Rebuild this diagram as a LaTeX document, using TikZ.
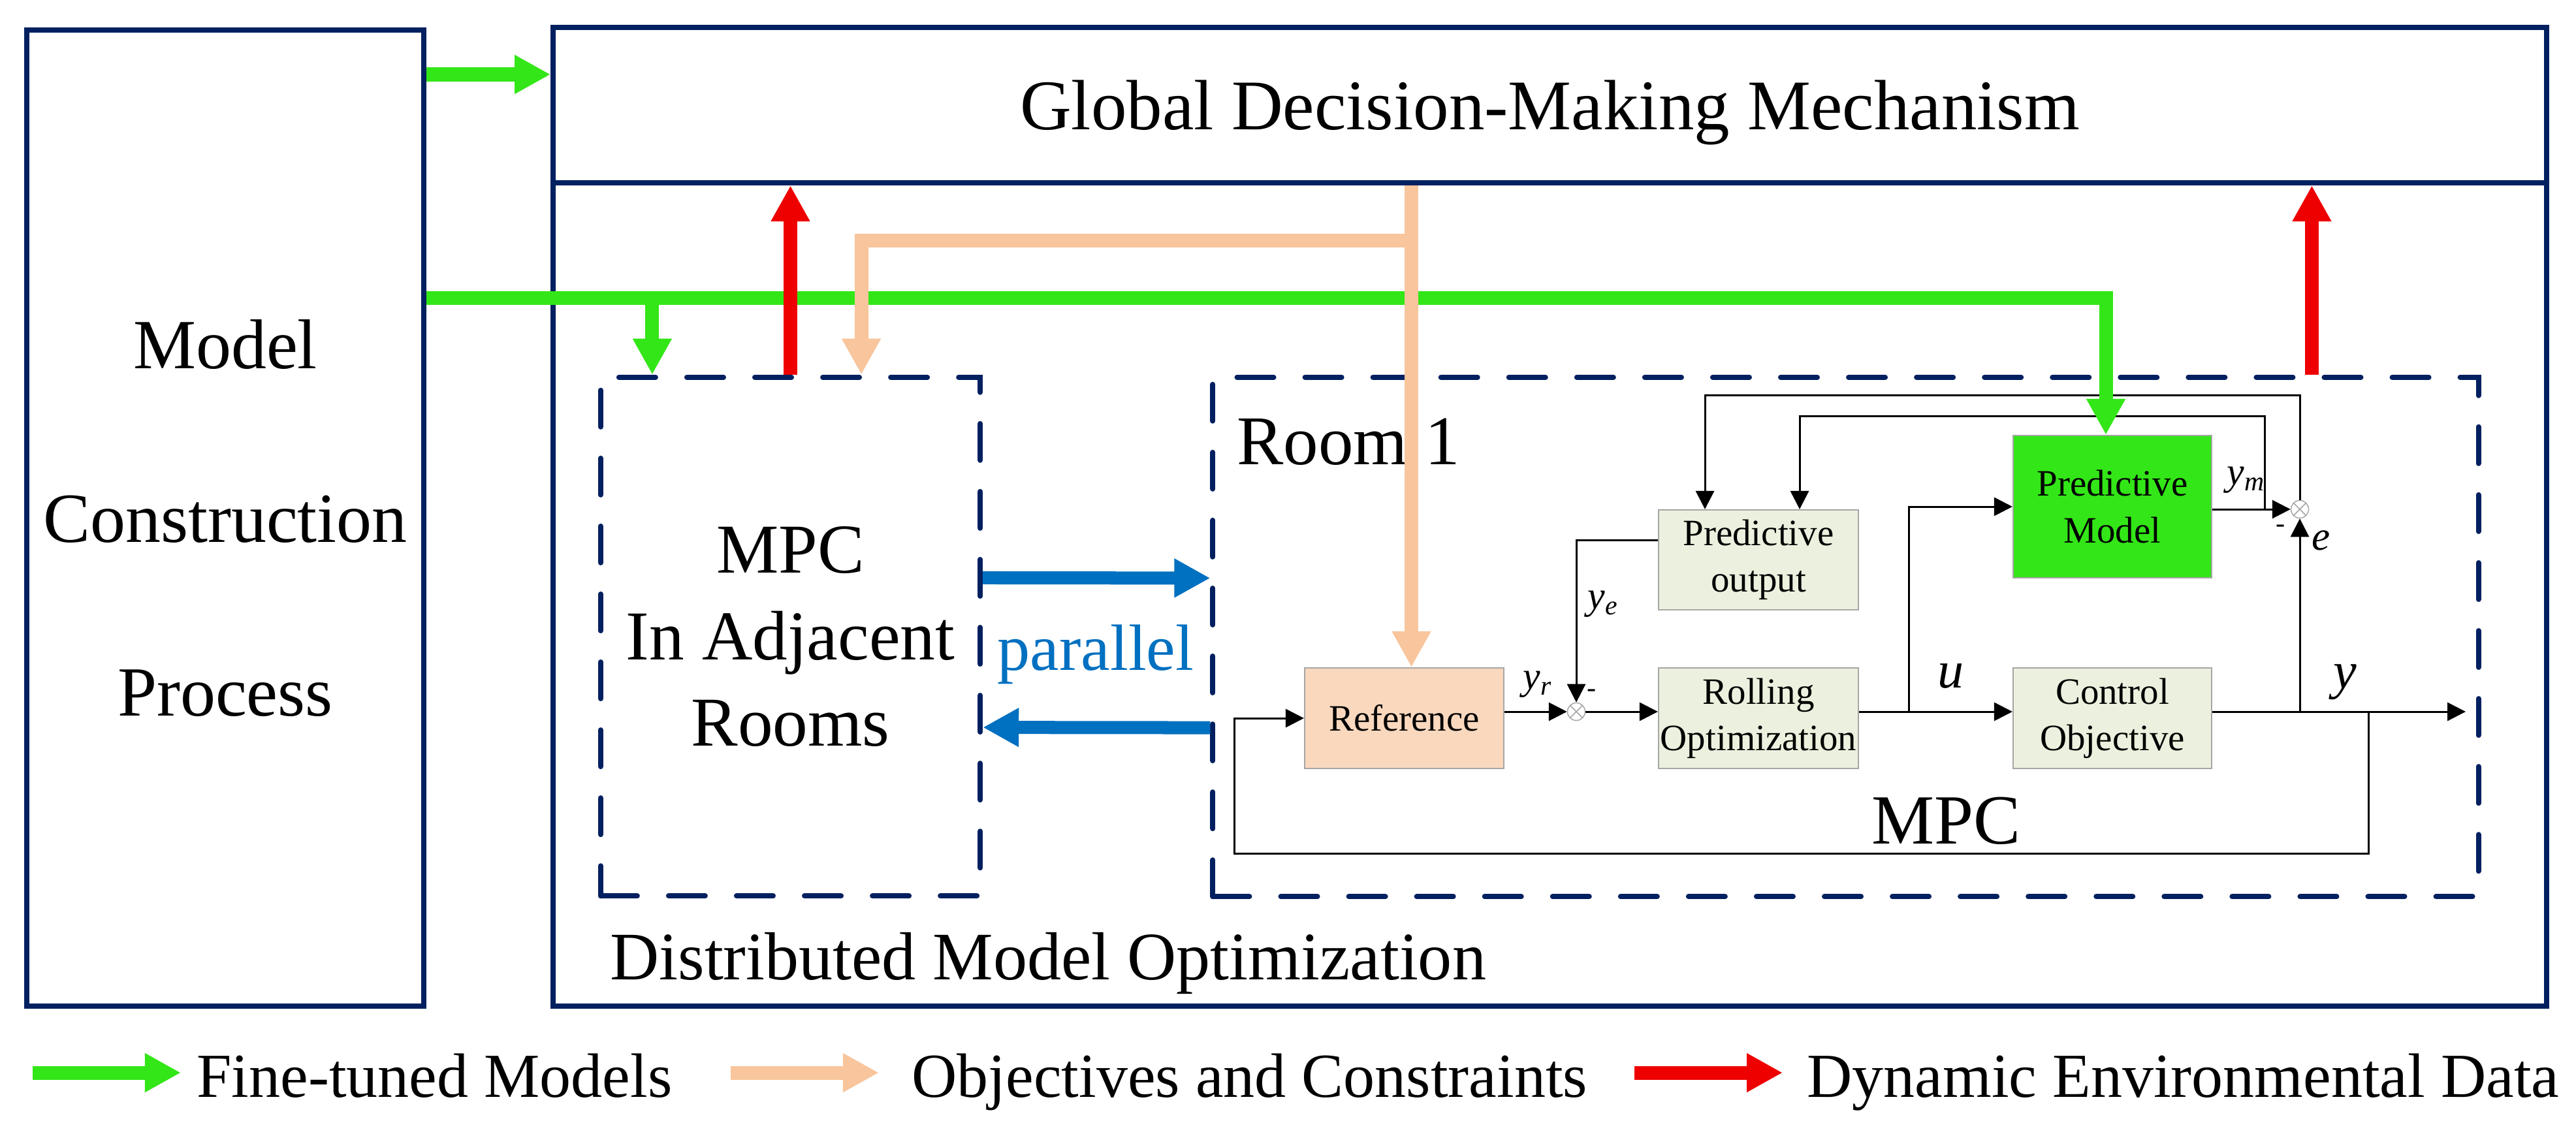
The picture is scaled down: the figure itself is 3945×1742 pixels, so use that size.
\documentclass[tikz,border=0pt]{standalone}
\usepackage{fontspec}
\setmainfont{Liberation Serif}
\usetikzlibrary{arrows.meta, positioning}
\definecolor{frameblue}{HTML}{002060}
\definecolor{modelgreen}{HTML}{33E617}
\definecolor{objpeach}{HTML}{F8C59C}
\definecolor{refpeach}{HTML}{F9D8BE}
\definecolor{envred}{HTML}{EE0000}
\definecolor{parblue}{HTML}{0070C0}
\definecolor{blockgreen}{HTML}{EBF1DE}
\newcommand{\hugetext}{\fontsize{30.7pt}{75.7pt}\selectfont}
\newcommand{\largetext}{\fontsize{30.5pt}{37.6pt}\selectfont}
\newcommand{\legendtext}{\fontsize{27.3pt}{32pt}\selectfont}
\newcommand{\blocktext}{\fontsize{16.2pt}{20.2pt}\selectfont}
\newcommand{\sigtext}{\fontsize{17pt}{20pt}\selectfont\itshape}
\newcommand{\bigsig}{\fontsize{22.8pt}{26pt}\selectfont\itshape}

\begin{document}
\begin{tikzpicture}[x=0.01cm, y=-0.01cm,
  frame/.style={draw=frameblue, line width=0.08cm, inner sep=0pt},
  dashbox/.style={draw=frameblue, line width=0.08cm, line cap=round,
    dash pattern=on 0.56cm off 0.48cm, inner sep=0pt},
  block/.style={draw=gray!70, line width=0.02cm, fill=blockgreen, inner sep=0pt,
    minimum width=3.05cm, minimum height=1.54cm, align=center, font=\blocktext},
  junction/.style={circle, draw=gray!70, line width=0.015cm, minimum size=0.27cm, inner sep=0pt,
    path picture={\draw[gray!70, line width=0.015cm]
      ([shift={(45:0.135cm)}]path picture bounding box.center) -- ([shift={(225:0.135cm)}]path picture bounding box.center)
      ([shift={(135:0.135cm)}]path picture bounding box.center) -- ([shift={(315:0.135cm)}]path picture bounding box.center);}},
  wire/.style={line width=0.03cm},
  sig/.style={wire, -{Triangle[length=0.28cm, width=0.28cm]}},
  fat/.style={line width=0.21cm, -{Triangle[length=0.55cm, width=0.56cm]}},
  fatgreen/.style={fat, draw=modelgreen},
  fatpeach/.style={fat, draw=objpeach},
  fatred/.style={fat, draw=envred},
  fatblue/.style={fat, line width=0.2cm, draw=parblue},
]
  \useasboundingbox (0,0) rectangle (3945,1742);

  % outer frames
  \node[frame, minimum width=6.08cm, minimum height=14.95cm, align=center, font=\hugetext]
    (mcp) at (345,793.5) {Model\\Construction\\Process};
  \node[frame, minimum width=30.51cm, minimum height=2.38cm, text depth=0pt,
    font=\fontsize{31pt}{36pt}\selectfont] (gdm) at (2373.5,161) {Global Decision-Making Mechanism};
  \node[frame, minimum width=30.51cm, minimum height=12.61cm] (dmo) at (2373.5,910.5) {};
  \node[anchor=base west, font=\fontsize{29.6pt}{34pt}\selectfont] (dmolbl) at (922,1500)
    {Distributed Model Optimization};

  % rooms
  \node[dashbox, minimum width=5.81cm, minimum height=7.94cm, align=center, font=\largetext]
    (adj) at (1210.5,975) {MPC\\In Adjacent\\Rooms};
  \node[dashbox, minimum width=19.37cm, minimum height=7.95cm] (room) at (2826.5,975.5) {};
  \node[anchor=base west, font=\fontsize{30.4pt}{36pt}\selectfont] (roomlbl) at (1882,711) {Room 1};
  \node[anchor=base west, font=\fontsize{30.7pt}{36pt}\selectfont] (mpclbl) at (2854,1292) {MPC};

  % MPC loop blocks
  \node[block, fill=refpeach] (ref) at (2150.5,1100) {Reference};
  \node[block, minimum width=3.06cm] (ro) at (2693,1100) {Rolling\\Optimization};
  \node[block, minimum width=3.04cm] (co) at (3235,1100) {Control\\Objective};
  \node[block, minimum width=3.06cm, minimum height=1.53cm] (po) at (2693,857.5) {Predictive\\output};
  \node[block, fill=modelgreen, minimum width=3.04cm, minimum height=2.18cm] (pm) at (3235,776) {Predictive\\Model};
  \node[junction] (sum1) at (2414,1090) {};
  \node[junction] (sum2) at (3522,780) {};

  % signal lines
  \coordinate (ubr) at (2923,1090);
  \coordinate (ebr) at (3522,1090);
  \coordinate (yend) at (3776,1090);
  \coordinate (fbb) at (3627,1307);
  \coordinate (fbl) at (1890,1307);
  \coordinate (ymbr) at (3468,780);
  \coordinate (fbi) at (2756,637);
  \coordinate (fbo) at (2611,605);
  \draw[sig] (ref.east |- sum1) -- (sum1.west);
  \draw[sig] (sum1.east) -- (ro.west |- sum1);
  \draw[sig] (ro.east |- sum1) -- (co.west |- sum1);
  \draw[sig] (co.east |- sum1) -- (yend);
  \draw[sig] (ubr) |- (pm.west);
  \draw[sig] (pm.east |- sum2) -- (sum2.west);
  \draw[sig] (ebr) -- (sum2.south);
  \draw[sig] (ymbr) |- (fbi) -- (fbi |- po.north);
  \draw[sig] (sum2.north) |- (fbo) -- (fbo |- po.north);
  \draw[sig] ([yshift=0.3cm]po.west) -| (sum1.north);
  \draw[sig] (fbb |- yend) -- (fbb) -- (fbl) |- (ref.west);

  % signal labels
  \node[font=\sigtext] (yrlbl) at (2355,1048) {y\textsubscript{r}};
  \node[font=\sigtext] (yelbl) at (2455,925) {y\textsubscript{e}};
  \node[font=\sigtext] (ymlbl) at (3440,735) {y\textsubscript{m}};
  \node[font=\fontsize{18pt}{20pt}\selectfont\itshape] (elbl) at (3555,828) {e};
  \node[font=\bigsig] (ulbl) at (2988,1036) {u};
  \node[font=\bigsig] (ylbl) at (3591,1045) {y};
  \node[font=\fontsize{12pt}{12pt}\selectfont] (minus1) at (2437,1062) {-};
  \node[font=\fontsize{12pt}{12pt}\selectfont] (minus2) at (3492,810) {-};

  % fine-tuned models
  \coordinate (g1) at (mcp.east |- 0,114);
  \coordinate (g2) at (mcp.east |- 0,456);
  \coordinate (adjg) at ([xshift=0.83cm]adj.north west);
  \coordinate (pmin) at ([xshift=-0.1cm]pm.north);
  \draw[fatgreen] (g1) -- (g1 -| gdm.west);
  \draw[fatgreen] (g2) -| (pmin);
  \draw[fatgreen] (adjg |- g2) -- (adjg);

  % objectives and constraints
  \coordinate (objin) at ([xshift=0.11cm]ref.north);
  \coordinate (objbr) at (objin |- 0,368);
  \coordinate (adjo) at ([xshift=-1.86cm]adj.north east);
  \draw[fatpeach] (objin |- gdm.south) -- (objin);
  \draw[fatpeach] (objbr) -| (adjo);

  % dynamic environmental data
  \coordinate (envr) at ([xshift=-2.59cm]room.north east);
  \draw[fatred] (adj.north) -- (adj.north |- gdm.south);
  \draw[fatred] (envr) -- (envr |- gdm.south);

  % parallel exchange
  \draw[fatblue] ([yshift=0.9cm]adj.east) -- ([yshift=0.9cm]room.west);
  \draw[fatblue] ([yshift=-1.39cm]room.west) -- ([yshift=-1.39cm]adj.east);
  \node[anchor=base, text=parblue, font=\fontsize{28.5pt}{32pt}\selectfont] (par) at (1678,1026) {parallel};

  % legend
  \coordinate (lgg) at (50,1643);
  \coordinate (lgp) at (1119,1643);
  \coordinate (lgr) at (2503,1643);
  \draw[fatgreen] (lgg) -- ++(227,0);
  \draw[fatpeach] (lgp) -- ++(227,0);
  \draw[fatred] (lgr) -- ++(227,0);
  \node[anchor=base west, font=\legendtext] (lggtxt) at (289,1680) {Fine-tuned Models};
  \node[anchor=base west, font=\legendtext] (lgptxt) at (1384,1680) {Objectives and Constraints};
  \node[anchor=base west, font=\legendtext] (lgrtxt) at (2755,1680) {Dynamic Environmental Data};
\end{tikzpicture}
\end{document}
